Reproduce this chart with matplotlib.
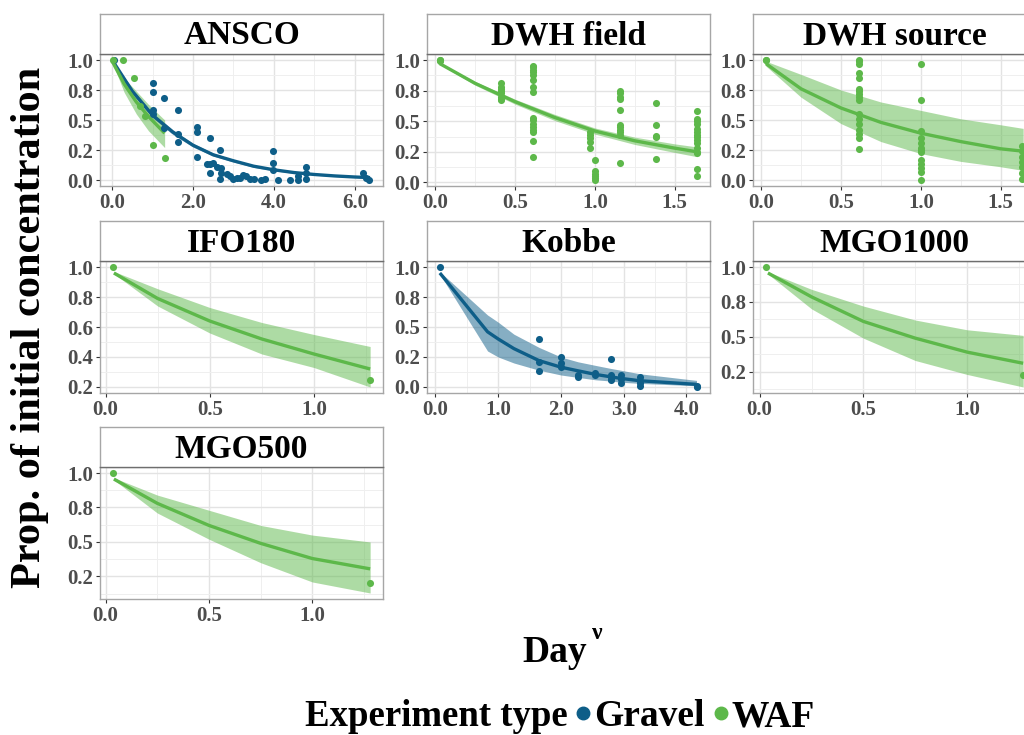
#!/usr/bin/env python3
"""Decay of oil component concentration vs Day^nu, one panel per oil/source,
with fitted curves and confidence ribbons for gravel and WAF experiments."""

import matplotlib
matplotlib.use("Agg")
import matplotlib.pyplot as plt
from matplotlib.lines import Line2D
from matplotlib.ticker import FixedLocator, FormatStrFormatter

plt.rcParams.update({
    "font.family": ["Liberation Serif", "DejaVu Serif"],
    "font.weight": "bold",
})

GRAVEL = "#0e5e88"
WAF = "#5db84a"
COLOURS = {"Gravel": GRAVEL, "WAF": WAF}

# ---------------------------------------------------------------------------
# data
# ---------------------------------------------------------------------------

# ANSCO
ansco_gravel_x = [0.05, 1.01, 1.01, 1.01, 1.01, 1.28, 1.28, 1.64, 1.64, 1.64,
                  2.09, 2.09, 2.09, 2.41, 2.35, 2.43, 2.50, 2.42, 2.60, 2.68,
                  2.70, 2.70, 2.68, 2.84, 2.92, 3.00, 3.08, 3.16, 3.24, 3.32,
                  3.40, 3.50, 3.69, 3.77, 3.99, 3.99, 3.99, 4.10, 4.40, 4.60,
                  4.60, 4.79, 4.79, 4.79, 6.20, 6.28, 6.36]
ansco_gravel_y = [1.00, 0.81, 0.73, 0.58, 0.55, 0.68, 0.43, 0.58, 0.38, 0.32,
                  0.44, 0.40, 0.19, 0.35, 0.13, 0.13, 0.14, 0.06, 0.11, 0.25,
                  0.10, 0.06, 0.01, 0.05, 0.03, 0.01, 0.02, 0.02, 0.04, 0.03,
                  0.01, 0.01, 0.00, 0.01, 0.24, 0.145, 0.08, 0.00, 0.00, 0.00,
                  0.03, 0.11, 0.06, 0.01, 0.06, 0.02, 0.00]
ansco_waf_x = [0.02, 0.28, 0.55, 0.68, 0.81, 1.00, 1.30]
ansco_waf_y = [1.00, 1.00, 0.85, 0.62, 0.53, 0.29, 0.18]

ansco_gravel_fx = [0.02, 0.5, 1.0, 1.5, 2.0, 2.5, 3.0, 3.5, 4.0, 4.5, 5.0,
                   5.5, 6.0, 6.38]
ansco_gravel_fit = [0.99, 0.74, 0.54, 0.40, 0.29, 0.21, 0.16, 0.115, 0.085,
                    0.062, 0.046, 0.034, 0.025, 0.02]
ansco_gravel_lo = [0.98, 0.72, 0.52, 0.38, 0.275, 0.20, 0.15, 0.105, 0.077,
                   0.055, 0.040, 0.029, 0.021, 0.016]
ansco_gravel_hi = [0.995, 0.76, 0.56, 0.42, 0.305, 0.225, 0.17, 0.125, 0.093,
                   0.069, 0.052, 0.039, 0.029, 0.024]
ansco_waf_fx = [0.02, 0.3, 0.6, 0.9, 1.3]
ansco_waf_fit = [0.98, 0.80, 0.65, 0.53, 0.39]
ansco_waf_lo = [0.97, 0.73, 0.55, 0.41, 0.27]
ansco_waf_hi = [0.99, 0.85, 0.74, 0.63, 0.50]

# DWH field
dwhf_x = ([0.03] * 3 + [0.41] * 8 + [0.61] * 16 + [0.97] * 5 + [1.00] * 6
          + [1.16] * 11 + [1.38] * 5 + [1.64] * 15)
dwhf_y = [1.00, 1.00, 0.99,
          0.81, 0.78, 0.76, 0.75, 0.73, 0.70, 0.68, 0.67,
          0.95, 0.94, 0.92, 0.90, 0.88, 0.84, 0.78, 0.74, 0.53, 0.51, 0.48,
          0.45, 0.43, 0.41, 0.34, 0.21,
          0.41, 0.39, 0.36, 0.33, 0.28,
          0.18, 0.09, 0.07, 0.05, 0.04, 0.02,
          0.75, 0.73, 0.70, 0.68, 0.59, 0.47, 0.45, 0.43, 0.41, 0.39, 0.155,
          0.65, 0.47, 0.38, 0.37, 0.19,
          0.58, 0.52, 0.50, 0.48, 0.44, 0.41, 0.39, 0.37, 0.35, 0.32, 0.28,
          0.25, 0.24, 0.11, 0.05]
dwhf_fx = [0.03, 0.25, 0.5, 0.75, 1.0, 1.25, 1.5, 1.64]
dwhf_fit = [0.97, 0.81, 0.66, 0.53, 0.42, 0.34, 0.28, 0.25]
dwhf_lo = [0.965, 0.795, 0.64, 0.505, 0.395, 0.31, 0.245, 0.21]
dwhf_hi = [0.975, 0.825, 0.68, 0.555, 0.445, 0.37, 0.315, 0.29]

# DWH source
dwhs_x = [0.03] * 2 + [0.61] * 17 + [1.00] * 13 + [1.63] * 7
dwhs_y = [1.00, 1.00,
          1.00, 0.99, 0.97, 0.89, 0.85, 0.76, 0.74, 0.72, 0.69, 0.67, 0.55,
          0.51, 0.47, 0.42, 0.38, 0.35, 0.26,
          0.97, 0.67, 0.41, 0.35, 0.31, 0.27, 0.25, 0.23, 0.17, 0.13, 0.10,
          0.07, 0.00,
          0.28, 0.24, 0.19, 0.15, 0.11, 0.06, 0.01]
dwhs_fx = [0.03, 0.25, 0.5, 0.75, 1.0, 1.25, 1.5, 1.64]
dwhs_fit = [0.97, 0.76, 0.60, 0.48, 0.39, 0.32, 0.26, 0.24]
dwhs_lo = [0.95, 0.69, 0.47, 0.32, 0.22, 0.155, 0.11, 0.08]
dwhs_hi = [0.99, 0.88, 0.75, 0.65, 0.58, 0.51, 0.46, 0.43]

# IFO180
ifo_x = [0.035, 1.27]
ifo_y = [1.00, 0.245]
ifo_fx = [0.04, 0.25, 0.5, 0.75, 1.0, 1.27]
ifo_fit = [0.96, 0.79, 0.64, 0.52, 0.42, 0.32]
ifo_lo = [0.955, 0.74, 0.56, 0.42, 0.33, 0.20]
ifo_hi = [0.97, 0.855, 0.73, 0.63, 0.55, 0.47]

# Kobbe
kobbe_x = [0.07, 1.65, 1.65, 1.65, 2.0, 2.0, 2.0, 2.27, 2.27, 2.55, 2.55,
           2.79, 2.79, 2.79, 2.79, 2.95, 2.95, 2.95, 3.26, 3.26, 3.26, 3.26,
           4.16, 4.17]
kobbe_y = [1.00, 0.40, 0.21, 0.13, 0.25, 0.20, 0.17, 0.10, 0.08, 0.12, 0.10,
           0.23, 0.10, 0.07, 0.06, 0.10, 0.07, 0.035, 0.08, 0.05, 0.03, 0.01,
           0.01, 0.00]
kobbe_fx = [0.07, 0.83, 1.0, 1.25, 1.65, 2.0, 2.27, 2.55, 2.79, 2.95, 3.26,
            4.16]
kobbe_fit = [0.95, 0.46, 0.40, 0.32, 0.22, 0.165, 0.135, 0.105, 0.085, 0.072,
             0.052, 0.022]
kobbe_lo = [0.94, 0.30, 0.25, 0.20, 0.14, 0.10, 0.08, 0.06, 0.05, 0.04, 0.03,
            0.01]
kobbe_hi = [0.96, 0.60, 0.54, 0.44, 0.33, 0.25, 0.21, 0.18, 0.155, 0.14, 0.11,
            0.055]

# MGO1000
mgo1000_x = [0.03, 1.27]
mgo1000_y = [1.00, 0.226]
mgo1000_fx = [0.04, 0.25, 0.5, 0.75, 1.0, 1.27]
mgo1000_fit = [0.957, 0.786, 0.61, 0.49, 0.39, 0.31]
mgo1000_lo = [0.95, 0.70, 0.49, 0.33, 0.23, 0.14]
mgo1000_hi = [0.965, 0.84, 0.72, 0.62, 0.55, 0.51]

# MGO500
mgo500_x = [0.035, 1.28]
mgo500_y = [1.00, 0.20]
mgo500_fx = [0.04, 0.25, 0.5, 0.75, 1.0, 1.28]
mgo500_fit = [0.956, 0.78, 0.62, 0.49, 0.38, 0.305]
mgo500_lo = [0.95, 0.71, 0.52, 0.35, 0.21, 0.13]
mgo500_hi = [0.965, 0.84, 0.73, 0.62, 0.55, 0.50]

Y_QUART = ([0, .25, .5, .75, 1], [.125, .375, .625, .875])
Y_QUART_HI = ([.25, .5, .75, 1], [.125, .375, .625, .875])
Y_FIFTH = ([.2, .4, .6, .8, 1], [.3, .5, .7, .9])
X_HALF = ([0, .5, 1, 1.5], [.25, .75, 1.25, 1.75])

PANELS = [
    ("ANSCO",
     [("Gravel", ansco_gravel_x, ansco_gravel_y, ansco_gravel_fx,
       ansco_gravel_fit, ansco_gravel_lo, ansco_gravel_hi),
      ("WAF", ansco_waf_x, ansco_waf_y, ansco_waf_fx, ansco_waf_fit,
       ansco_waf_lo, ansco_waf_hi)],
     ([0, 2, 4, 6], [1, 3, 5]), Y_QUART),
    ("DWH field",
     [("WAF", dwhf_x, dwhf_y, dwhf_fx, dwhf_fit, dwhf_lo, dwhf_hi)],
     X_HALF, Y_QUART),
    ("DWH source",
     [("WAF", dwhs_x, dwhs_y, dwhs_fx, dwhs_fit, dwhs_lo, dwhs_hi)],
     X_HALF, Y_QUART),
    ("IFO180",
     [("WAF", ifo_x, ifo_y, ifo_fx, ifo_fit, ifo_lo, ifo_hi)],
     X_HALF, Y_FIFTH),
    ("Kobbe",
     [("Gravel", kobbe_x, kobbe_y, kobbe_fx, kobbe_fit, kobbe_lo, kobbe_hi)],
     ([0, 1, 2, 3, 4], [.5, 1.5, 2.5, 3.5]), Y_QUART),
    ("MGO1000",
     [("WAF", mgo1000_x, mgo1000_y, mgo1000_fx, mgo1000_fit, mgo1000_lo,
       mgo1000_hi)],
     X_HALF, Y_QUART_HI),
    ("MGO500",
     [("WAF", mgo500_x, mgo500_y, mgo500_fx, mgo500_fit, mgo500_lo,
       mgo500_hi)],
     X_HALF, Y_QUART_HI),
]

# ---------------------------------------------------------------------------
# layout (pixels on a 1024 x 735 canvas)
# ---------------------------------------------------------------------------
W, H = 1024, 735
COL_LEFT = [100, 427, 753]
ROW_TOP = [14, 221, 427]
PANEL_W, STRIP_H, PANEL_H = 283, 40, 132


def expand(vals, frac=0.05):
    lo, hi = min(vals), max(vals)
    d = (hi - lo) * frac
    return lo - d, hi + d


def draw_panel(fig, idx, title, groups, xt, yt):
    r, c = divmod(idx, 3)
    left = COL_LEFT[c] / W
    top = ROW_TOP[r]
    ax = fig.add_axes([left, 1 - (top + STRIP_H + PANEL_H) / H,
                       PANEL_W / W, PANEL_H / H])
    st = fig.add_axes([left, 1 - (top + STRIP_H) / H,
                       PANEL_W / W, STRIP_H / H])

    allx, ally = [], []
    for name, px, py, fx, fit, lo, hi in groups:
        col = COLOURS[name]
        ax.fill_between(fx, lo, hi, color=col, alpha=0.5, linewidth=0,
                        zorder=2)
        ax.plot(fx, fit, color=col, linewidth=2.4, zorder=3,
                solid_capstyle="butt")
        ax.scatter(px, py, s=26, color=col, linewidths=0, zorder=4)
        allx += list(px) + list(fx)
        ally += list(py) + list(lo) + list(hi)

    ax.set_xlim(*expand(allx))
    ax.set_ylim(*expand(ally))
    ax.xaxis.set_major_locator(FixedLocator(xt[0]))
    ax.xaxis.set_minor_locator(FixedLocator(xt[1]))
    ax.yaxis.set_major_locator(FixedLocator(yt[0]))
    ax.yaxis.set_minor_locator(FixedLocator(yt[1]))
    ax.xaxis.set_major_formatter(FormatStrFormatter("%.1f"))
    ax.yaxis.set_major_formatter(FormatStrFormatter("%.1f"))
    ax.grid(True, which="major", color="#e3e3e3", linewidth=1.0, zorder=0)
    ax.grid(True, which="minor", color="#efefef", linewidth=0.7, zorder=0)
    ax.set_axisbelow(True)
    ax.tick_params(which="major", direction="out", length=3, width=0.8,
                   color="#333333", labelcolor="#4d4d4d", labelsize=15,
                   pad=2)
    ax.tick_params(which="minor", length=0)
    for s in ax.spines.values():
        s.set_color("#a6a6a6")
        s.set_linewidth(1.0)

    st.set_xticks([])
    st.set_yticks([])
    st.set_facecolor("white")
    for s in st.spines.values():
        s.set_color("#a6a6a6")
        s.set_linewidth(1.0)
    st.spines["bottom"].set_color("#6e6e6e")
    st.text(0.5, 0.45, title, transform=st.transAxes, ha="center",
            va="center", fontsize=24, fontweight="bold", color="black")
    return ax


def main():
    fig = plt.figure(figsize=(W / 100, H / 100), dpi=100)
    fig.patch.set_facecolor("white")

    for i, (title, groups, xt, yt) in enumerate(PANELS):
        draw_panel(fig, i, title, groups, xt, yt)

    fig.text(30 / W, 1 - 327 / H, "Prop. of initial concentration",
             rotation=90, ha="center", va="center", fontsize=30.5,
             fontweight="bold")

    day = fig.text(555 / W, 1 - 652 / H, "Day", ha="center", va="center",
                   fontsize=27, fontweight="bold")
    plt.annotate("\u03bd", xy=(1.0, 0.72), xycoords=day, xytext=(3, 0),
                 textcoords="offset points", ha="left", va="bottom",
                 fontsize=17, fontweight="bold", annotation_clip=False)

    fig.text(305 / W, 1 - 717 / H, "Experiment type", ha="left",
             va="center", fontsize=26.5, fontweight="bold")
    handles = [Line2D([], [], marker="o", linestyle="", color=COLOURS[k],
                      markersize=9) for k in ("Gravel", "WAF")]
    fig.legend(handles, ["Gravel", "WAF"], loc="center left",
               bbox_to_anchor=(574 / W, 1 - 717 / H), ncol=2, frameon=False,
               fontsize=27, handlelength=0.5, handletextpad=0.05,
               columnspacing=0.17, borderaxespad=0, borderpad=0)

    fig.savefig("out.png", dpi=100, facecolor="white")
    plt.close(fig)


if __name__ == "__main__":
    main()
